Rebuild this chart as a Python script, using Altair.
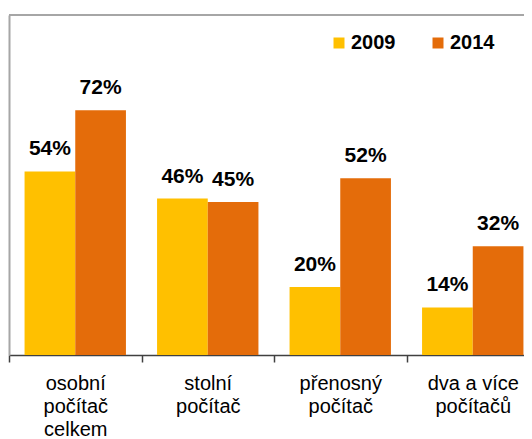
import altair as alt
import pandas as pd

categories = ["osobní\npočítač\ncelkem", "stolní\npočítač", "přenosný\npočítač", "dva a více\npočítačů"]
years = ["2009", "2014"]
values_2009 = [54, 46, 20, 14]
values_2014 = [72, 45, 52, 32]
colors = ["#FFC000", "#E46C0A"]

rows = []
for c, a, b in zip(categories, values_2009, values_2014):
    rows.append({"cat": c, "year": "2009", "value": a})
    rows.append({"cat": c, "year": "2014", "value": b})
df = pd.DataFrame(rows)

FONT = "Liberation Sans"

x = alt.X(
    "cat:N",
    sort=categories,
    scale=alt.Scale(range=[0, 530], paddingInner=0, paddingOuter=0),
    axis=alt.Axis(
        title=None, labelAngle=0, labelExpr="split(datum.label, '\\n')",
        tickBand="extent", tickSize=7, tickColor="#404040", tickWidth=1.5,
        domainColor="#404040", domainWidth=1.5,
        labelFont=FONT, labelFontSize=20, labelLineHeight=23, labelColor="#000000",
        labelPadding=11, labelOverlap=False, grid=False,
    ),
)
xo = alt.XOffset("year:N", sort=years, scale=alt.Scale(paddingInner=0, paddingOuter=0.307))
y = alt.Y(
    "value:Q",
    scale=alt.Scale(domain=[0, 100]),
    axis=alt.Axis(title=None, labels=False, ticks=False, grid=False,
                  domainColor="#A6A6A6", domainWidth=2),
)

base = alt.Chart(df)

bars = base.mark_bar().encode(
    x=x, xOffset=xo, y=y,
    color=alt.Color(
        "year:N",
        scale=alt.Scale(domain=years, range=colors),
        legend=alt.Legend(
            title=None, orient="none", legendX=320, legendY=18,
            direction="horizontal", symbolType="square", symbolSize=121,
            symbolStrokeWidth=0, symbolOpacity=1,
            labelFont=FONT, labelFontSize=20, labelFontWeight="bold",
            labelColor="#000000", labelOffset=2, columnPadding=32,
        ),
    ),
)

labels = base.mark_text(
    dy=-16, baseline="alphabetic", font=FONT, fontSize=21,
    fontWeight="bold", color="#000000",
).encode(
    x=x, xOffset=xo, y=y,
    text="label:N",
).transform_calculate(label="datum.value + '%'")

top = base.mark_rule(color="#A6A6A6", strokeWidth=2).encode(y=alt.datum(100))

chart = alt.layer(bars, labels, top).properties(
    width=515, height=340,
    autosize=alt.AutoSizeParams(type="none"),
    padding={"left": 1, "top": 7, "right": 0, "bottom": 84},
    background="white",
).configure_view(strokeWidth=0)

chart.save("out.html", embed_options={"renderer": "svg", "actions": False})
